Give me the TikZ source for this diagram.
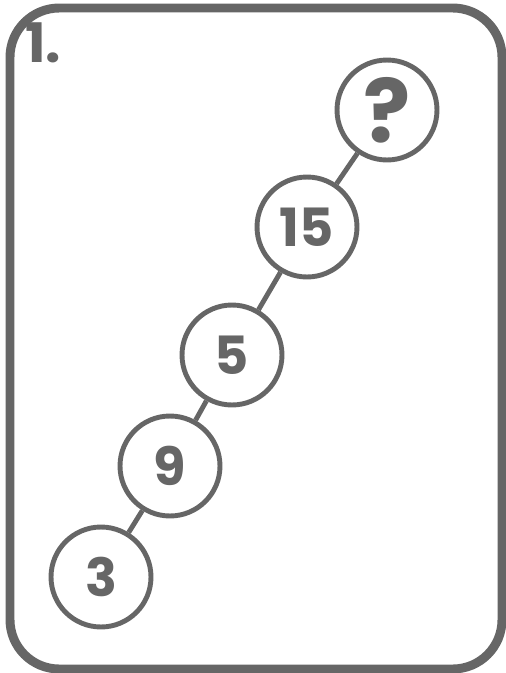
\documentclass[tikz,border=0pt]{standalone}
\usepackage{fontspec}
\setmainfont{Poppins}
\definecolor{ink}{RGB}{102,102,102}

\begin{document}
\begin{tikzpicture}[x=0.02cm,y=-0.02cm,inner sep=0pt,
  ball/.style={circle,draw=ink,line width=2.8pt,minimum size=2cm,text=ink,
    font=\fontsize{30}{30}\selectfont\bfseries},
  link/.style={draw=ink,line width=2.8pt}]
\useasboundingbox (0,0) rectangle (506,673);
\draw[ink,line width=5.1pt,rounded corners=28] (10,8) rectangle (502,669);
\node[anchor=base west,text=ink,font=\fontsize{31}{31}\selectfont\bfseries] (num) at (25,62) {1.};

\node[ball,font=\fontsize{50}{50}\selectfont\bfseries] (q) at (387,110) {?};
\node[ball] (a15) at (307,227) {15};
\node[ball] (a5) at (232,355) {5};
\node[ball] (a9) at (170,466) {9};
\node[ball] (a3) at (101,577) {3};

\draw[link] (q) -- (a15) -- (a5) -- (a9) -- (a3);
\end{tikzpicture}
\end{document}
